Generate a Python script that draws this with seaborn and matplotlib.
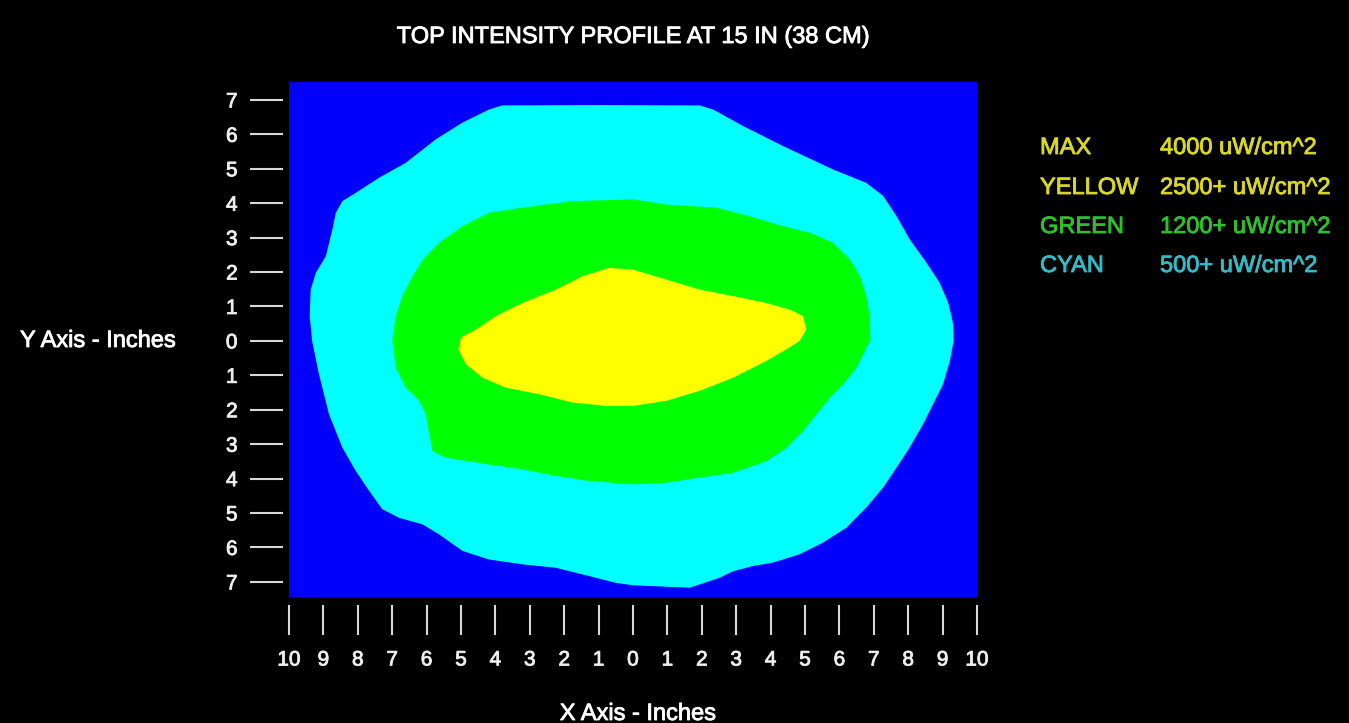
import matplotlib
matplotlib.use("Agg")
import matplotlib.pyplot as plt
import matplotlib.patheffects as pe
import seaborn as sns

# contour outlines (inches), clockwise
cyan_x = [-3.80, -1.00, 1.94, 2.33, 3.20, 4.36, 5.81, 6.78, 7.27, 7.66, 8.04, 8.53,
          8.91, 9.16, 9.30, 9.32, 9.21, 9.01, 8.72, 8.43, 8.04, 7.66, 7.27, 6.78,
          6.20, 5.52, 4.84, 4.07, 3.49, 2.91, 2.52, 1.65, 0.00, -0.50, -1.28, -2.25,
          -3.22, -4.19, -4.96, -5.64, -6.12, -6.80, -7.29, -7.67, -8.06, -8.45, -8.84,
          -9.13, -9.33, -9.40, -9.37, -9.22, -8.93, -8.74, -8.64, -8.45, -8.06, -7.38,
          -6.61, -5.74, -4.96, -4.19]
cyan_y = [6.84, 6.85, 6.84, 6.72, 6.24, 5.66, 4.98, 4.59, 4.21, 3.62, 2.95, 2.27,
          1.69, 1.11, 0.52, 0.00, -0.58, -1.26, -1.84, -2.42, -3.10, -3.68, -4.26, -4.84,
          -5.43, -5.86, -6.20, -6.44, -6.54, -6.69, -6.88, -7.17, -7.10, -7.03, -6.83, -6.59,
          -6.49, -6.35, -6.10, -5.62, -5.33, -5.14, -4.89, -4.36, -3.78, -3.10, -2.13,
          -0.97, 0.00, 0.72, 1.49, 1.98, 2.46, 3.24, 3.72, 4.06, 4.30, 4.74,
          5.17, 5.85, 6.34, 6.72]

green_x = [0.00, 0.97, 2.42, 3.39, 4.36, 5.14, 5.81, 6.30, 6.59, 6.78, 6.88, 6.90,
           6.78, 6.49, 6.10, 5.72, 5.33, 4.94, 4.46, 3.88, 2.91, 1.94, 0.97, 0.00,
           -1.28, -2.25, -3.22, -4.19, -5.45, -5.83, -5.93, -6.03, -6.22, -6.61, -6.90,
           -7.00, -6.90, -6.71, -6.41, -6.12, -5.64, -4.96, -4.19, -3.22, -1.76]
green_y = [4.11, 3.96, 3.87, 3.62, 3.33, 3.14, 2.85, 2.36, 1.88, 1.30, 0.72, 0.00,
           -0.19, -0.78, -1.26, -1.65, -2.13, -2.62, -3.10, -3.49, -3.83, -3.97, -4.12, -4.17,
           -4.07, -3.92, -3.73, -3.59, -3.39, -3.20, -2.71, -2.13, -1.74, -1.36, -0.78,
           0.00, 0.72, 1.30, 1.88, 2.36, 2.85, 3.33, 3.72, 3.87, 4.06]

yellow_x = [-0.70, 0.00, 0.97, 1.94, 2.91, 3.88, 4.55, 4.94, 5.04, 4.84, 4.55, 3.88,
            2.91, 1.94, 0.97, 0.00, -0.79, -1.76, -2.73, -3.70, -4.38, -4.86, -5.08,
            -5.00, -4.57, -3.99, -3.22, -2.25, -1.47]
yellow_y = [2.12, 2.07, 1.78, 1.49, 1.30, 1.10, 0.91, 0.72, 0.33, 0.00, -0.19, -0.58,
            -1.07, -1.45, -1.74, -1.89, -1.89, -1.79, -1.55, -1.36, -1.07, -0.68, -0.25,
            0.10, 0.33, 0.72, 1.10, 1.49, 1.88]

x_ticks = list(range(-10, 11))
y_ticks = list(range(-7, 8))

level_names = ["MAX", "YELLOW", "GREEN", "CYAN"]
level_values = ["4000 uW/cm^2", "2500+ uW/cm^2", "1200+ uW/cm^2", "500+ uW/cm^2"]
level_colors = ["#d9d823", "#d9d823", "#2fc02f", "#33bcc6"]

sns.set_theme(style="dark")
plt.rcParams["font.family"] = ["Liberation Sans", "DejaVu Sans"]

W, H = 1349, 723
fig = plt.figure(figsize=(W / 100, H / 100), dpi=100, facecolor="black")
ax = fig.add_axes([289 / W, 126 / H, 688 / W, 515 / H])
ax.set_facecolor("#0000fb")

ax.fill(cyan_x, cyan_y, color="#00ffff", lw=0)
ax.fill(green_x, green_y, color="#00ff00", lw=0)
ax.fill(yellow_x, yellow_y, color="#ffff00", lw=0)

ax.set_xlim(-10, 10)
ax.set_ylim(-7.44, 7.52)
ax.grid(False)

ax.set_xticks(x_ticks)
ax.set_xticklabels([str(abs(v)) for v in x_ticks])
ax.set_yticks(y_ticks)
ax.set_yticklabels([str(abs(v)) for v in y_ticks])

for side in ["top", "right", "bottom", "left"]:
    ax.spines[side].set_visible(False)
ax.spines["bottom"].set_position(("outward", 6))
ax.spines["left"].set_position(("outward", 4.5))

ax.tick_params(axis="both", direction="out", width=1.5, color="#d8d8d8",
               labelcolor="#eeeeee", labelsize=15)
ax.tick_params(axis="x", length=21.5, pad=11, bottom=True)
ax.tick_params(axis="y", length=23.5, pad=9, left=True)

# thicken text a bit, the original is heavy low-res Arial
def heavy(c):
    return [pe.withStroke(linewidth=0.6, foreground=c)]

for lab in ax.get_xticklabels() + ax.get_yticklabels():
    lab.set_path_effects(heavy("#eeeeee"))

fig.text(633 / W, 1 - 37 / H, "TOP INTENSITY PROFILE AT 15 IN (38 CM)",
         color="white", fontsize=17, ha="center", va="center",
         path_effects=heavy("white"))
fig.text(20 / W, 1 - 341 / H, "Y Axis - Inches", color="white",
         fontsize=17, ha="left", va="center", path_effects=heavy("white"))
fig.text(638 / W, 1 - 714 / H, "X Axis - Inches", color="white",
         fontsize=17, ha="center", va="center", path_effects=heavy("white"))

rows = [148, 188, 227, 266]
for name, val, col, r in zip(level_names, level_values, level_colors, rows):
    fig.text(1040 / W, 1 - r / H, name, color=col, fontsize=17, ha="left",
             va="center", path_effects=heavy(col))
    fig.text(1160 / W, 1 - r / H, val, color=col, fontsize=17, ha="left",
             va="center", path_effects=heavy(col))

fig.savefig("out.png", dpi=100, facecolor="black")
